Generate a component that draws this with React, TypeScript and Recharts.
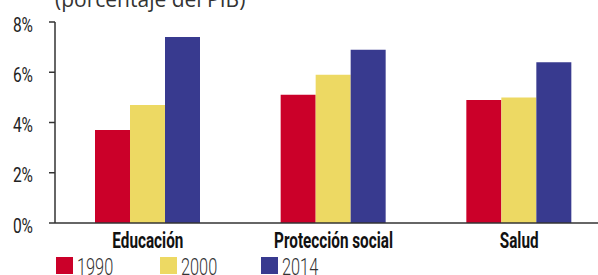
import React from 'react';
import { BarChart, Bar, XAxis, YAxis } from 'recharts';

const categories = ['Educación', 'Protección social', 'Salud'];
const series1990 = [3.7, 5.1, 4.9];
const series2000 = [4.7, 5.9, 5.0];
const series2014 = [7.4, 6.9, 6.4];
const yTicks = [0, 2, 4, 6, 8];
const legendLabels = ['1990', '2000', '2014'];

const COLORS = ['#CB0029', '#EDD963', '#383A8F'];
const KEYS = ['y1990', 'y2000', 'y2014'];
const FONT = "Roboto, 'Noto Sans', sans-serif";

const data = categories.map((name, i) => ({
  name,
  y1990: series1990[i],
  y2000: series2000[i],
  y2014: series2014[i],
}));

// legend item offsets
const LEGEND_X = [56, 160, 261];

// condensed look: no narrow font installed, so squeeze horizontally
const CategoryTick = ({ x, y, payload }: any) => (
  <g transform={`translate(${x},${y})`}>
    <text transform="scale(0.68,1)" x={0} y={0} dy={25} textAnchor="middle"
      fontSize={22.5} fontWeight="bold" fill="#111" fontFamily={FONT}>
      {payload.value}
    </text>
  </g>
);

const PercentTick = ({ x, y, payload }: any) => (
  <g transform={`translate(${x},${y})`}>
    <text transform="scale(0.74,1)" x={0} y={0} dy={9.5} textAnchor="end"
      fontSize={21} fill="#222" fontFamily={FONT}>
      {`${payload.value}%`}
    </text>
  </g>
);

const App = () => {
  return (
    <div style={{ position: 'absolute', left: 0, top: 0, width: 598, height: 275, overflow: 'hidden', background: '#fff' }}>
      <div style={{
        position: 'absolute', left: 55, top: -15, fontSize: 21, color: '#333',
        fontFamily: "'Open Sans', sans-serif", whiteSpace: 'nowrap'
      }}>
        (porcentaje del PIB)
      </div>
      <BarChart
        width={612}
        height={275}
        data={data}
        barSize={35}
        barGap={0}
        margin={{ top: 22, right: 0, left: 0, bottom: 22 }}
      >
        <XAxis
          dataKey="name"
          height={30}
          tickLine={false}
          tickSize={0}
          tickMargin={0}
          axisLine={{ stroke: '#333', strokeWidth: 1.5 }}
          tick={<CategoryTick />}
        />
        <YAxis
          width={55}
          domain={[0, 8]}
          ticks={yTicks}
          tickSize={6}
          tickMargin={16}
          axisLine={{ stroke: '#333', strokeWidth: 1.5 }}
          tickLine={{ stroke: '#333', strokeWidth: 1.5 }}
          tick={<PercentTick />}
        />
        {KEYS.map((k, i) => (
          <Bar key={k} dataKey={k} fill={COLORS[i]} isAnimationActive={false} />
        ))}
      </BarChart>
      {legendLabels.map((label, i) => (
        <div key={label} style={{ position: 'absolute', left: LEGEND_X[i], top: 257, display: 'flex', alignItems: 'flex-start' }}>
          <div style={{ width: 17, height: 17, background: COLORS[i] }} />
          <span style={{
            marginLeft: 4, fontSize: 24, color: '#333', fontFamily: FONT, lineHeight: '20px',
            fontWeight: 300, display: 'inline-block', transform: 'scaleX(0.68)', transformOrigin: 'left top'
          }}>
            {label}
          </span>
        </div>
      ))}
    </div>
  );
};

export default App;
